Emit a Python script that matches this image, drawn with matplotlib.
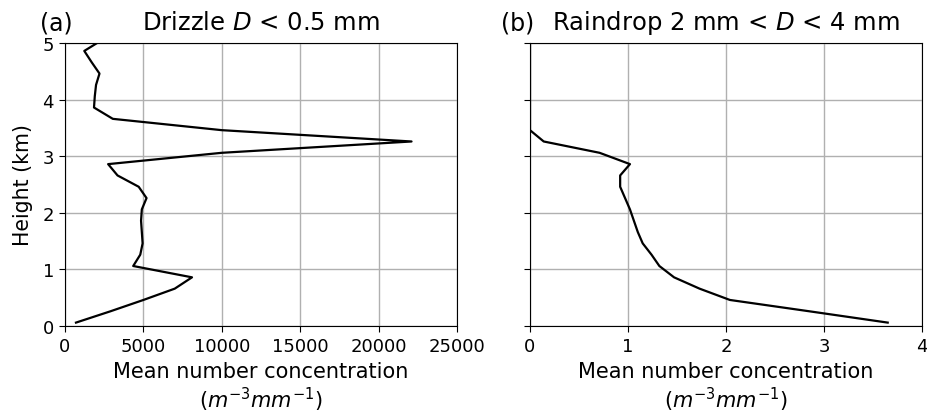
import numpy as np
import matplotlib
matplotlib.use('Agg')
import matplotlib.pyplot as plt

# Heights of the profile levels (km)
heights = [0.06, 0.26, 0.46, 0.66, 0.86, 1.06, 1.26, 1.46, 1.66, 1.86,
           2.06, 2.26, 2.46, 2.66, 2.86, 3.06, 3.26, 3.46, 3.66, 3.86,
           4.06, 4.26, 4.46, 4.66, 4.86, 5.06]

# Mean number concentration, drizzle D < 0.5 mm
drizzle = [700, 2900, 5000, 7000, 8100, 4350, 4800, 4950, 4900, 4850,
           4900, 5200, 4700, 3350, 2750, 10000, 22100, 10000, 3050, 1850,
           1900, 1980, 2200, 1700, 1230, 2400]

# Mean number concentration, raindrop 2 mm < D < 4 mm
raindrop = [3.65, 2.85, 2.04, 1.73, 1.47, 1.32, 1.24, 1.15, 1.10, 1.06,
            1.02, 0.97, 0.92, 0.92, 1.02, 0.71, 0.14, 0.0, 0.0, 0.0,
            0.0, 0.0, 0.0, 0.0, 0.0, 0.0]

xlab = 'Mean number concentration\n($m^{-3}mm^{-1}$)'

fig = plt.figure(figsize=(9.28, 4.14), dpi=100)
ax1 = fig.add_axes([65/928, 1 - 327/414, 392/928, 283/414])
ax2 = fig.add_axes([530/928, 1 - 327/414, 392/928, 283/414], sharey=ax1)

ax1.plot(drizzle, heights, color='black', lw=1.6)
ax1.set_xlim(0, 25000)
ax1.set_xticks([0, 5000, 10000, 15000, 20000, 25000])
ax1.set_ylim(0, 5)
ax1.set_yticks([0, 1, 2, 3, 4, 5])
ax1.set_ylabel('Height (km)', fontsize=14.8, labelpad=7)
ax1.set_title('Drizzle $D$ < 0.5 mm', fontsize=17.5, pad=7)
ax1.set_title('(a)', loc='left', x=-0.065, fontsize=17, pad=10)

ax2.plot(raindrop, heights, color='black', lw=1.6)
ax2.set_xlim(0, 4)
ax2.set_xticks([0, 1, 2, 3, 4])
ax2.tick_params(labelleft=False)
ax2.set_title('Raindrop 2 mm < $D$ < 4 mm', fontsize=17.5, pad=7)
ax2.set_title('(b)', loc='left', x=-0.075, fontsize=17, pad=10)

for ax in (ax1, ax2):
    ax.grid(True, color='#b0b0b0', lw=1.0)
    ax.set_axisbelow(True)
    ax.tick_params(labelsize=13, length=4.5)
    ax.set_xlabel(xlab, fontsize=15, linespacing=1.2)

fig.savefig('out.png', dpi=100)
